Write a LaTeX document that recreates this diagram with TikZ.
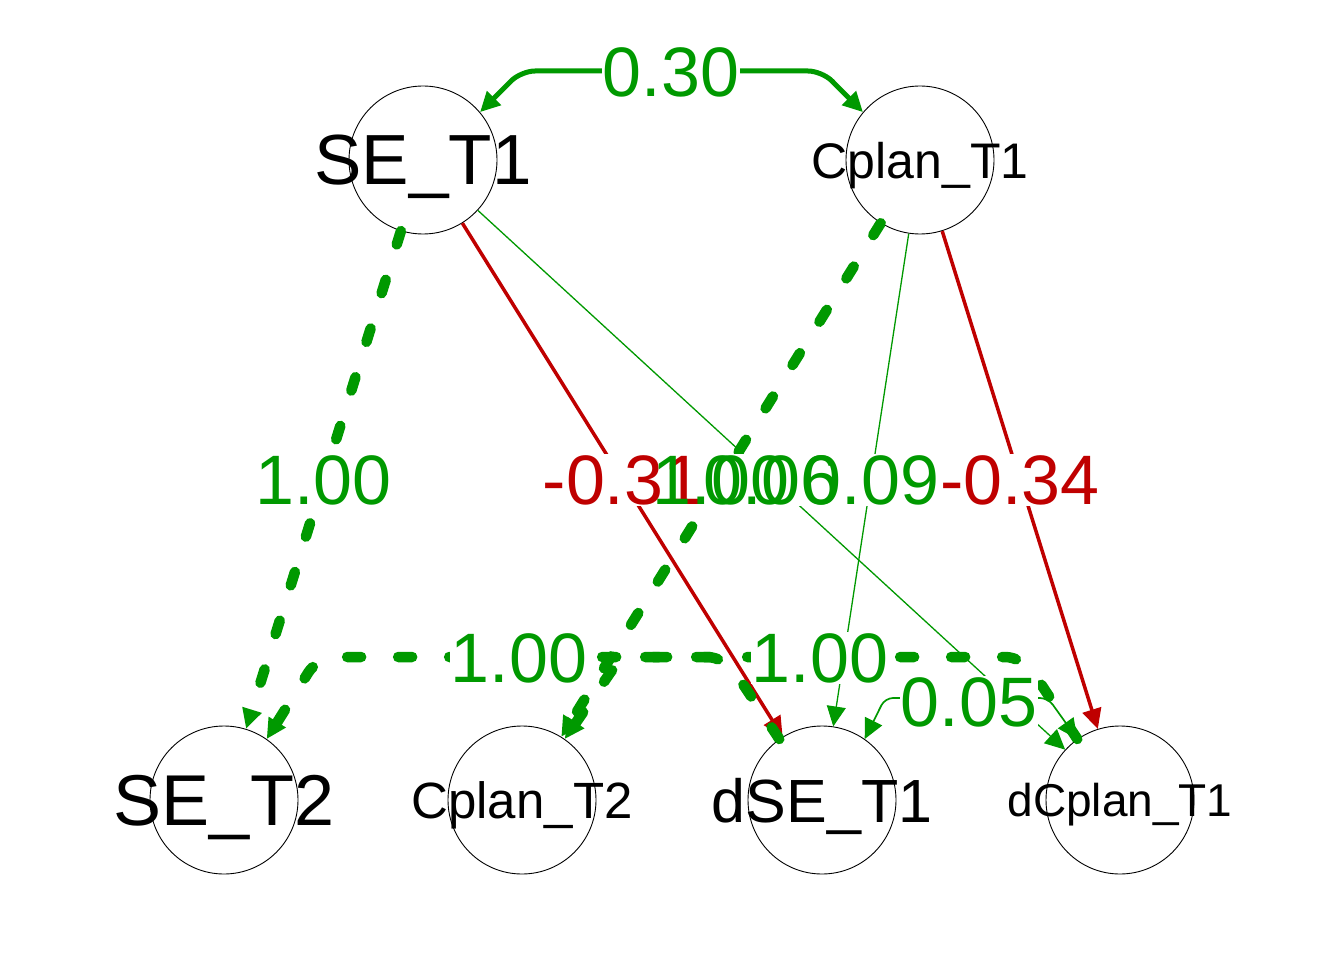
\documentclass[tikz,border=0pt]{standalone}
\usepackage{fontspec}
\setmainfont{Liberation Sans}
\usetikzlibrary{arrows.meta}
\definecolor{pgreen}{RGB}{0,153,0}
\definecolor{nred}{RGB}{191,0,0}
\newcommand\fsz[1]{\fontsize{#1}{#1}\selectfont}
\tikzset{
  var/.style={circle, draw=black, line width=0.9pt, fill=white, minimum size=148pt, inner sep=0pt},
  vlab/.style={inner sep=0pt, text depth=0pt},
  tip/.style={-{Triangle[length=20pt,width=19pt]}},
  thickdash/.style={draw=pgreen, line width=10.5pt, dash pattern=on 14pt off 37pt, line cap=round, tip},
  redln/.style={draw=nred, line width=3.5pt, tip},
  thinln/.style={draw=pgreen, line width=1.3pt, tip},
  elab/.style={font=\fsz{70}, inner xsep=1pt, inner ysep=2pt, text depth=0pt},
  elabbg/.style={elab, fill=white, text=white},
}
\begin{document}
\begin{tikzpicture}[x=1pt,y=1pt]
\useasboundingbox[fill=white] (0,0) rectangle (1344,-960);
% variables
\node[var] (se1) at (423,-160) {};
\node[var] (cp1) at (920,-160) {};
\node[var] (se2) at (224,-800) {};
\node[var] (cp2) at (522,-800) {};
\node[var] (dse) at (822,-800) {};
\node[var] (dcp) at (1120,-800) {};
% corner points of curved connectors
\coordinate (k1) at (521,-71);
\coordinate (k2) at (822,-71);
\coordinate (k3) at (725,-657);
\coordinate (k4) at (318,-657);
\coordinate (k5) at (1023,-657);
\coordinate (k6) at (621,-657);
\coordinate (k7) at (885,-698);
\coordinate (k8) at (1048,-698);
% straight connectors
\draw[thickdash] (se1) -- coordinate (m1) (se2);
\draw[redln] (se1) -- coordinate (m2) (dse);
\draw[thinln] (se1) -- coordinate (m3) (dcp);
\draw[thickdash] (cp1) -- coordinate (m4) (cp2);
\draw[thinln] (cp1) -- coordinate (m5) (dse);
\draw[redln] (cp1) -- coordinate (m6) (dcp);
% curved connectors
\draw[draw=pgreen, line width=5pt, {Triangle[length=20pt,width=19pt]}-{Triangle[length=20pt,width=19pt]}, rounded corners=14pt]
  (se1.40) -- (k1) -- (k2) -- (cp1.140);
\draw[thickdash, rounded corners=18pt] (dse.125) -- (k3) -- (k4) -- (se2.55);
\draw[thickdash, rounded corners=18pt] (dcp.125) -- (k5) -- (k6) -- (cp2.55);
\draw[draw=pgreen, line width=1.7pt, {Triangle[length=20pt,width=19pt]}-{Triangle[length=20pt,width=19pt]}, rounded corners=8pt]
  (dse.55) -- (k7) -- (k8) -- (dcp.125);
% variable names
\node[vlab, font=\fsz{71}] (t1) at (se1) {SE\_T1};
\node[vlab, font=\fsz{50}] (t2) at (cp1) {Cplan\_T1};
\node[vlab, font=\fsz{72}] (t3) at (se2) {SE\_T2};
\node[vlab, font=\fsz{51}] (t4) at (cp2) {Cplan\_T2};
\node[vlab, font=\fsz{61}] (t5) at (dse) {dSE\_T1};
\node[vlab, font=\fsz{46}] (t6) at (dcp) {dCplan\_T1};
% label backgrounds
\node[elabbg] (b1) at (m1) {1.00};
\node[elabbg] (b2) at (m2) {-0.31};
\node[elabbg] (b4) at (m4) {1.00};
\node[elabbg] (b3) at (m3) {0.06};
\node[elabbg] (b5) at (m5) {0.09};
\node[elabbg] (b6) at (m6) {-0.34};
\node[elabbg] (b7) at (671,-72) {0.30};
\node[elabbg] (b8) at (519,-658) {1.00};
\node[elabbg] (b9) at (820,-658) {1.00};
\node[elabbg] (b10) at (969,-702) {0.05};
% label texts
\node[elab, text=pgreen] (l1) at (m1) {1.00};
\node[elab, text=nred] (l2) at (m2) {-0.31};
\node[elab, text=pgreen] (l4) at (m4) {1.00};
\node[elab, text=pgreen] (l3) at (m3) {0.06};
\node[elab, text=pgreen] (l5) at (m5) {0.09};
\node[elab, text=nred] (l6) at (m6) {-0.34};
\node[elab, text=pgreen] (l7) at (b7) {0.30};
\node[elab, text=pgreen] (l8) at (b8) {1.00};
\node[elab, text=pgreen] (l9) at (b9) {1.00};
\node[elab, text=pgreen] (l10) at (b10) {0.05};
\end{tikzpicture}
\end{document}
